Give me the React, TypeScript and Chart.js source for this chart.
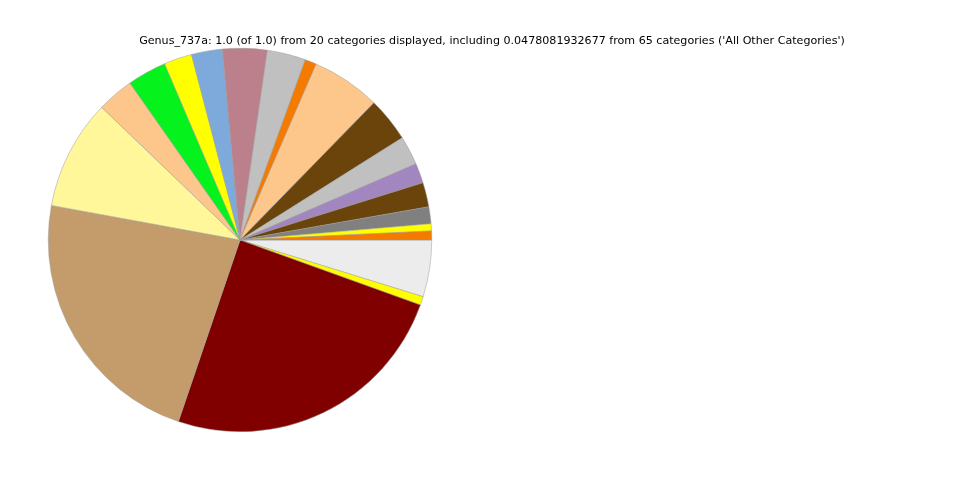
import React, { useEffect, useRef } from "react";
import { Chart, registerables } from "chart.js";

Chart.register(...registerables);

// Categories listed counterclockwise from 3 o'clock (as in the source), last = All Other
const categories = [
  "Cat 1", "Cat 2", "Cat 3", "Cat 4", "Cat 5", "Cat 6", "Cat 7", "Cat 8", "Cat 9", "Cat 10",
  "Cat 11", "Cat 12", "Cat 13", "Cat 14", "Cat 15", "Cat 16", "Cat 17", "Cat 18", "Cat 19",
  "All Other Categories",
];
const values = [
  0.0075, 0.006, 0.0142, 0.0206, 0.0167, 0.0244, 0.0375, 0.058, 0.0097, 0.0325,
  0.0375, 0.026, 0.0236, 0.033, 0.031, 0.0928, 0.2267, 0.247, 0.0072, 0.0478081932677,
];
const colors = [
  "#f57a00", "#ffff00", "#808080", "#6b440b", "#a286c0", "#c0c0c0", "#6b440b", "#fdc78b", "#f57a00", "#c0c0c0",
  "#bb808b", "#7eaadb", "#ffff00", "#05f21d", "#fdc78b", "#fff799", "#c49c6b", "#800000", "#ffff00", "#ececec",
];
const titleText =
  "Genus_737a: 1.0 (of 1.0) from 20 categories displayed, including 0.0478081932677 from 65 categories ('All Other Categories')";

export default function App() {
  const ref = useRef<HTMLCanvasElement | null>(null);
  useEffect(() => {
    if (!ref.current) return;
    // Chart.js draws clockwise; reverse to reproduce counterclockwise order starting at 3 o'clock
    const labels = [...categories].reverse();
    const data = [...values].reverse();
    const bg = [...colors].reverse();
    const titlePlugin = {
      id: "mplTitle",
      afterDraw(chart: any) {
        const ctx = chart.ctx;
        ctx.save();
        ctx.font = "11.1px 'DejaVu Sans'";
        ctx.fillStyle = "#000";
        ctx.textAlign = "center";
        ctx.textBaseline = "alphabetic";
        ctx.fillText(titleText, 492, 43.5);
        ctx.restore();
      },
    };
    const chart = new Chart(ref.current, {
      type: "pie",
      data: {
        labels,
        datasets: [
          {
            data,
            backgroundColor: bg,
            borderColor: "#9a9a9a",
            borderWidth: 0.5,
          },
        ],
      },
      options: {
        animation: false,
        responsive: false,
        rotation: 90,
        layout: { padding: { left: 48, top: 48, right: 528, bottom: 48 } },
        plugins: {
          legend: { display: false },
          title: { display: false },
          tooltip: { enabled: false },
        },
      },
      plugins: [titlePlugin],
    });
    return () => chart.destroy();
  }, []);
  return (
    <div style={{ position: "fixed", left: 0, top: 0, width: 960, height: 480, background: "#fff" }}>
      <canvas ref={ref} width={960} height={480} style={{ width: 960, height: 480 }} />
    </div>
  );
}
